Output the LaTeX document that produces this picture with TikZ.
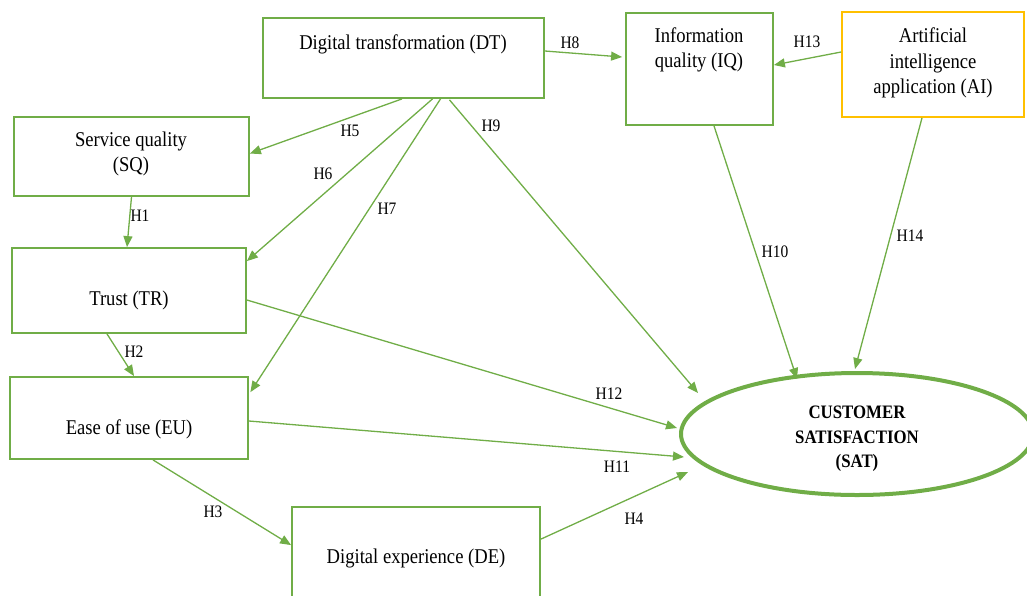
\documentclass[tikz,border=0pt]{standalone}
\usepackage{fontspec}
\setmainfont[FakeStretch=0.885]{Liberation Serif}
\usetikzlibrary{arrows.meta,shapes.geometric}
\definecolor{grn}{HTML}{70AD47}
\definecolor{gold}{HTML}{FFC000}

\begin{document}
\begin{tikzpicture}[x=1pt,y=-1pt,
  box/.style={draw=grn, line width=1.8pt, inner sep=0pt},
  txt/.style={font=\fontsize{21}{25.5}\selectfont, align=center, inner sep=0pt},
  hyp/.style={font=\fontsize{17.5}{20}\selectfont, inner sep=0pt},
  arr/.style={draw=grn, line width=1.3pt, -{Triangle[length=11pt,width=9pt]}}]
\useasboundingbox (0,0) rectangle (1027,595);

\coordinate (S9) at (698,393);
\coordinate (S12) at (677,428);
\coordinate (S11) at (684,457);
\coordinate (S4) at (688,472);
\coordinate (S10) at (797,379);
\coordinate (S14) at (855,369);

\node [box, minimum width=281pt, minimum height=80pt] (DT) at (403.5,58) {};
\node [box, minimum width=235pt, minimum height=79pt] (SQ) at (131.5,156.5) {};
\node [box, minimum width=234pt, minimum height=85pt] (TR) at (129,290.5) {};
\node [box, minimum width=238pt, minimum height=82pt] (EU) at (129,418) {};
\node [box, minimum width=248pt, minimum height=100pt] (DE) at (416,557) {};
\node [box, minimum width=147pt, minimum height=112pt] (IQ) at (699.5,69) {};
\node [box, draw=gold, minimum width=182pt, minimum height=105pt] (AI) at (933,64.5) {};
\node [ellipse, draw=grn, line width=4pt, minimum width=352pt, minimum height=122pt,
  inner sep=0pt] (SAT) at (857,434) {};

\node [txt] (DTt) at (403,44) {Digital transformation (DT)};
\node [txt] (SQt) at (131,154) {Service quality\\(SQ)};
\node [txt] (TRt) at (129,300) {Trust (TR)};
\node [txt] (EUt) at (129,429) {Ease of use (EU)};
\node [txt] (DEt) at (416,558) {Digital experience (DE)};
\node [txt] (IQt) at (699,50) {Information\\quality (IQ)};
\node [txt] (AIt) at (933,63) {Artificial\\intelligence\\application (AI)};
\node [txt, font=\fontsize{19}{24.5}\selectfont\bfseries] (SATt) at (857,439)
  {CUSTOMER\\SATISFACTION\\(SAT)};

\draw [arr] ([yshift=7pt]DT.east) -- ([xshift=-3pt,yshift=12pt]IQ.west);
\draw [arr] ([yshift=12.5pt]AI.west) -- ([yshift=4pt]IQ.east);
\draw [arr] ([xshift=-1.5pt]DT.south) -- ([yshift=3pt]SQ.east);
\draw [arr] ([xshift=29pt]DT.south) -- ([yshift=-14pt]TR.north east);
\draw [arr] ([xshift=37pt]DT.south) -- ([xshift=1.5pt,yshift=-16pt]EU.north east);
\draw [arr] ([xshift=46pt,yshift=-1pt]DT.south) -- (S9);
\draw [arr] (SQ.south) -- ([xshift=-2pt]TR.north);
\draw [arr] ([xshift=-22pt]TR.south) -- ([xshift=5pt]EU.north);
\draw [arr] ([yshift=-9.5pt]TR.east) -- (S12);
\draw [arr] ([yshift=-3pt]EU.east) -- (S11);
\draw [arr] ([xshift=24pt]EU.south) -- ([yshift=-39pt]DE.north west);
\draw [arr] ([yshift=-33pt]DE.north east) -- (S4);
\draw [arr] ([xshift=14.5pt]IQ.south) -- (S10);
\draw [arr] ([xshift=-11pt]AI.south) -- (S14);

\node [hyp] (h1) at (140,216) {H1};
\node [hyp] (h2) at (134,352) {H2};
\node [hyp] (h3) at (213,512) {H3};
\node [hyp] (h4) at (634,519) {H4};
\node [hyp] (h5) at (350,131) {H5};
\node [hyp] (h6) at (323,174) {H6};
\node [hyp] (h7) at (387,209) {H7};
\node [hyp] (h8) at (570,43) {H8};
\node [hyp] (h9) at (491,126) {H9};
\node [hyp] (h10) at (775,252) {H10};
\node [hyp] (h11) at (617,467) {H11};
\node [hyp] (h12) at (609,394) {H12};
\node [hyp] (h13) at (807,42) {H13};
\node [hyp] (h14) at (910,236) {H14};
\end{tikzpicture}
\end{document}
